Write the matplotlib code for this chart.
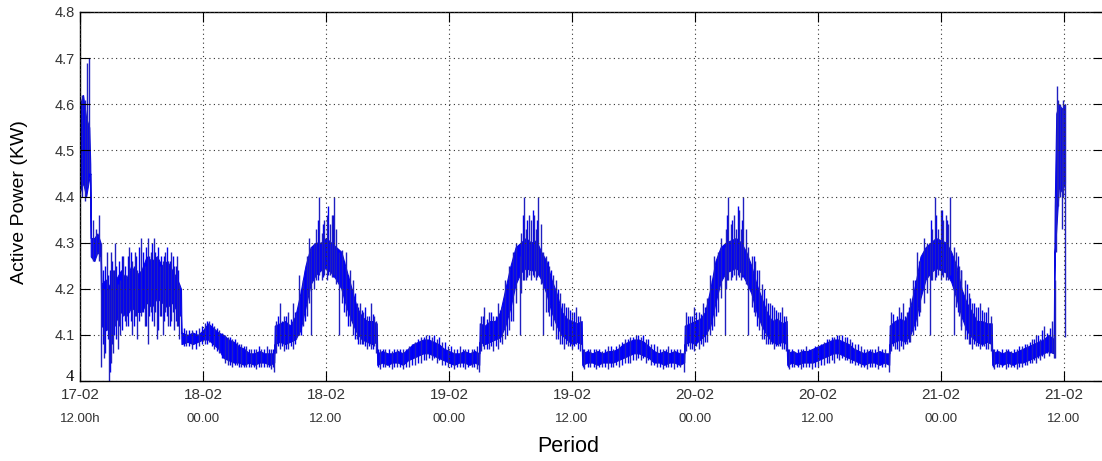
import numpy as np
import matplotlib
matplotlib.use("Agg")
import matplotlib.pyplot as plt
from matplotlib.transforms import blended_transform_factory

# ---------------- data (hours after 17-02 12:00) ----------------
tick_hours = [0, 12, 24, 36, 48, 60, 72, 84, 96]
tick_dates = ["17-02", "18-02", "18-02", "19-02", "19-02", "20-02", "20-02", "21-02", "21-02"]
tick_times = ["12.00h", "00.00", "12.00", "00.00", "12.00", "00.00", "12.00", "00.00", "12.00"]
y_ticks = [4.0, 4.1, 4.2, 4.3, 4.4, 4.5, 4.6, 4.7, 4.8]
y_labels = ["4", "4.1", "4.2", "4.3", "4.4", "4.5", "4.6", "4.7", "4.8"]

# dense core band of the power signal
band_hours = [
    0.0, 0.3, 0.6, 0.9, 1.0, 1.05, 1.4, 1.7, 2.0,
    2.1, 2.5, 3.0, 3.5, 4.0, 4.5, 5.0, 5.5, 6.0, 6.5, 7.0, 7.5, 8.0, 8.5, 9.0, 9.5, 9.85,
    9.9, 10.5, 11.0, 11.5, 12.0, 12.5, 13.0, 13.5, 14.0, 14.5, 15.0, 15.5, 16.0, 16.5, 17.0, 17.5, 18.0, 18.5, 18.95,
    19.0, 19.5, 20.0, 20.5, 21.0, 21.5, 22.0, 22.5, 23.0, 23.5, 24.0, 24.5, 25.0, 25.5, 26.0, 26.5, 27.0, 27.5, 28.0, 28.5, 28.95,
    29.0, 29.5, 30.0, 30.5, 31.0, 31.5, 32.0, 32.5, 33.0, 33.5, 34.0, 34.5, 35.0, 35.5, 36.0, 36.5, 37.0, 37.5, 38.0, 38.5, 38.95,
    39.0, 39.5, 40.0, 40.5, 41.0, 41.5, 42.0, 42.5, 43.0, 43.5, 44.0, 44.5, 45.0, 45.5, 46.0, 46.5, 47.0, 47.5, 48.0, 48.5, 48.95,
    49.0, 49.5, 50.0, 50.5, 51.0, 51.5, 52.0, 52.5, 53.0, 53.5, 54.0, 54.5, 55.0, 55.5, 56.0, 56.5, 57.0, 57.5, 58.0, 58.5, 58.95,
    59.0, 59.5, 60.0, 60.5, 61.0, 61.5, 62.0, 62.5, 63.0, 63.5, 64.0, 64.5, 65.0, 65.5, 66.0, 66.5, 67.0, 67.5, 68.0, 68.5, 68.95,
    69.0, 69.5, 70.0, 70.5, 71.0, 71.5, 72.0, 72.5, 73.0, 73.5, 74.0, 74.5, 75.0, 75.5, 76.0, 76.5, 77.0, 77.5, 78.0, 78.5, 78.95,
    79.0, 79.5, 80.0, 80.5, 81.0, 81.5, 82.0, 82.5, 83.0, 83.5, 84.0, 84.5, 85.0, 85.5, 86.0, 86.5, 87.0, 87.5, 88.0, 88.5, 88.95,
    89.0, 89.5, 90.0, 90.5, 91.0, 91.5, 92.0, 92.5, 93.0, 93.5, 94.0, 94.5, 95.0, 95.1, 95.25, 95.5, 95.8, 96.1,
]
band_low = [
    4.41, 4.43, 4.40, 4.44, 4.45, 4.27, 4.26, 4.28, 4.27,
    4.12, 4.11, 4.12, 4.13, 4.15, 4.14, 4.16, 4.15, 4.15, 4.17, 4.16, 4.18, 4.17, 4.16, 4.17, 4.15, 4.14,
    4.08, 4.085, 4.08, 4.085, 4.09, 4.09, 4.08, 4.07, 4.05, 4.045, 4.04, 4.04, 4.035, 4.04, 4.035, 4.04, 4.04, 4.035, 4.04,
    4.08, 4.085, 4.08, 4.085, 4.09, 4.11, 4.16, 4.21, 4.23, 4.24, 4.245, 4.235, 4.22, 4.20, 4.16, 4.13, 4.105, 4.09, 4.085, 4.08, 4.085,
    4.035, 4.04, 4.035, 4.04, 4.04, 4.035, 4.045, 4.05, 4.055, 4.06, 4.06, 4.055, 4.05, 4.045, 4.04, 4.035, 4.04, 4.04, 4.035, 4.04, 4.035,
    4.085, 4.08, 4.085, 4.09, 4.095, 4.12, 4.16, 4.21, 4.235, 4.245, 4.24, 4.24, 4.22, 4.19, 4.15, 4.12, 4.10, 4.09, 4.08, 4.085, 4.08,
    4.035, 4.04, 4.04, 4.035, 4.04, 4.04, 4.04, 4.045, 4.05, 4.055, 4.06, 4.06, 4.055, 4.05, 4.04, 4.04, 4.035, 4.04, 4.04, 4.035, 4.04,
    4.08, 4.085, 4.08, 4.09, 4.10, 4.12, 4.17, 4.215, 4.235, 4.24, 4.245, 4.235, 4.215, 4.19, 4.15, 4.12, 4.10, 4.085, 4.08, 4.085, 4.08,
    4.035, 4.04, 4.035, 4.04, 4.04, 4.04, 4.045, 4.05, 4.055, 4.06, 4.06, 4.055, 4.05, 4.045, 4.04, 4.035, 4.04, 4.04, 4.035, 4.04, 4.035,
    4.08, 4.085, 4.09, 4.085, 4.10, 4.13, 4.18, 4.22, 4.235, 4.245, 4.24, 4.235, 4.215, 4.18, 4.14, 4.11, 4.095, 4.085, 4.08, 4.085, 4.08,
    4.035, 4.04, 4.035, 4.04, 4.035, 4.04, 4.04, 4.045, 4.05, 4.055, 4.06, 4.065, 4.06, 4.28, 4.33, 4.42, 4.41, 4.43,
]
band_high = [
    4.60, 4.62, 4.57, 4.55, 4.47, 4.31, 4.31, 4.32, 4.30,
    4.21, 4.22, 4.20, 4.22, 4.24, 4.22, 4.25, 4.23, 4.24, 4.27, 4.26, 4.27, 4.25, 4.26, 4.24, 4.22, 4.20,
    4.105, 4.10, 4.105, 4.10, 4.11, 4.125, 4.115, 4.105, 4.10, 4.09, 4.085, 4.075, 4.07, 4.06, 4.06, 4.065, 4.06, 4.06, 4.06,
    4.12, 4.125, 4.13, 4.12, 4.14, 4.19, 4.25, 4.29, 4.30, 4.30, 4.31, 4.30, 4.29, 4.28, 4.24, 4.20, 4.16, 4.14, 4.13, 4.13, 4.125,
    4.06, 4.065, 4.06, 4.06, 4.065, 4.06, 4.07, 4.08, 4.085, 4.09, 4.09, 4.085, 4.08, 4.07, 4.065, 4.06, 4.06, 4.065, 4.06, 4.065, 4.06,
    4.125, 4.12, 4.13, 4.13, 4.15, 4.20, 4.25, 4.29, 4.30, 4.31, 4.30, 4.305, 4.28, 4.26, 4.22, 4.19, 4.15, 4.135, 4.13, 4.125, 4.13,
    4.06, 4.065, 4.06, 4.065, 4.06, 4.065, 4.065, 4.07, 4.08, 4.085, 4.09, 4.09, 4.085, 4.075, 4.065, 4.06, 4.065, 4.06, 4.065, 4.06, 4.06,
    4.12, 4.125, 4.13, 4.135, 4.15, 4.20, 4.26, 4.29, 4.30, 4.305, 4.31, 4.30, 4.28, 4.25, 4.21, 4.18, 4.15, 4.13, 4.135, 4.125, 4.13,
    4.06, 4.065, 4.06, 4.065, 4.065, 4.07, 4.075, 4.08, 4.085, 4.09, 4.09, 4.085, 4.08, 4.07, 4.065, 4.06, 4.065, 4.06, 4.065, 4.06, 4.06,
    4.12, 4.13, 4.135, 4.13, 4.16, 4.21, 4.27, 4.29, 4.30, 4.31, 4.305, 4.30, 4.28, 4.25, 4.20, 4.17, 4.15, 4.13, 4.13, 4.125, 4.125,
    4.06, 4.065, 4.06, 4.065, 4.06, 4.065, 4.07, 4.075, 4.08, 4.085, 4.09, 4.10, 4.09, 4.38, 4.58, 4.60, 4.59, 4.60,
]

# large fast excursions (spikes) of the signal
spike_hours = [
    0.15, 0.45, 0.7, 0.85, 1.3, 1.6, 1.85, 2.02,
    2.3, 2.6, 2.8, 3.0, 3.2, 3.4, 3.7, 3.9, 4.2, 4.5, 4.8, 5.1, 5.4, 5.6, 6.0, 6.3, 6.6, 6.9, 7.2, 7.5, 7.8, 8.1, 8.3, 8.6, 8.9, 9.2, 9.5, 9.7,
    10.3, 10.9, 11.6, 12.2, 12.6, 13.1, 13.6, 14.1, 14.4, 14.8, 15.3, 15.7, 16.2, 16.7, 17.2, 17.7, 18.2, 18.6, 18.9,
    19.1, 19.5, 19.9, 20.3, 20.8, 21.1, 21.4, 21.8, 22.1, 22.3, 22.5, 22.8, 23.05, 23.3, 23.6, 23.85, 24.1, 24.35, 24.55, 24.8, 25.0, 25.25, 25.6, 26.0, 26.3, 26.6, 27.0, 27.3, 27.6, 28.0, 28.4, 28.7, 28.9,
    29.3, 29.8, 30.4, 30.9, 31.5, 32.1, 32.7, 33.3, 33.8, 34.3, 34.8, 35.3, 35.9, 36.5, 37.1, 37.6, 38.2, 38.7, 38.95,
    39.1, 39.4, 39.9, 40.3, 40.8, 41.2, 41.5, 41.9, 42.2, 42.5, 42.9, 43.05, 43.3, 43.5, 43.8, 44.0, 44.3, 44.5, 44.7, 44.95, 45.2, 45.5, 45.8, 46.1, 46.4, 46.8, 47.2, 47.6, 48.0, 48.4, 48.8,
    49.2, 49.8, 50.3, 50.9, 51.5, 52.0, 52.6, 53.2, 53.7, 54.2, 54.7, 55.2, 55.7, 56.3, 56.9, 57.4, 58.0, 58.5, 58.95,
    59.1, 59.5, 59.9, 60.4, 60.8, 61.2, 61.5, 61.9, 62.2, 62.5, 62.9, 63.05, 63.25, 63.5, 63.8, 64.0, 64.3, 64.5, 64.7, 64.95, 65.2, 65.6, 65.9, 66.2, 66.5, 66.9, 67.3, 67.7, 68.1, 68.5, 68.9,
    69.2, 69.7, 70.3, 70.8, 71.4, 72.0, 72.6, 73.1, 73.6, 74.1, 74.6, 75.1, 75.6, 76.2, 76.8, 77.3, 77.9, 78.5, 78.95,
    79.1, 79.5, 79.9, 80.3, 80.7, 81.0, 81.3, 81.7, 82.0, 82.3, 82.6, 82.95, 83.15, 83.4, 83.7, 84.0, 84.2, 84.45, 84.65, 84.9, 85.3, 85.5, 85.8, 86.0, 86.3, 86.7, 87.0, 87.4, 87.8, 88.2, 88.6, 88.9,
    89.2, 89.7, 90.3, 90.8, 91.4, 91.9, 92.4, 92.9, 93.3, 93.7, 94.1, 94.5, 94.8, 95.0, 95.1, 95.2, 95.3, 95.45, 95.65, 95.8, 95.95, 96.12,
]
spike_low = [
    4.40, 4.39, 4.42, 4.45, 4.26, 4.27, 4.26, 4.03,
    4.05, 4.11, 4.00, 4.04, 4.06, 4.12, 4.07, 4.10, 4.14, 4.12, 4.15, 4.10, 4.14, 4.09, 4.14, 4.12, 4.08, 4.15, 4.12, 4.09, 4.14, 4.10, 4.15, 4.12, 4.13, 4.11, 4.12, 4.09,
    4.075, 4.07, 4.075, 4.08, 4.085, 4.07, 4.06, 4.04, 4.035, 4.03, 4.035, 4.03, 4.03, 4.03, 4.025, 4.03, 4.03, 4.025, 4.02,
    4.06, 4.07, 4.065, 4.07, 4.07, 4.09, 4.10, 4.12, 4.14, 4.17, 4.10, 4.20, 4.22, 4.23, 4.22, 4.23, 4.22, 4.23, 4.225, 4.23, 4.21, 4.10, 4.17, 4.14, 4.12, 4.10, 4.09, 4.08, 4.08, 4.07, 4.07, 4.075, 4.06,
    4.025, 4.03, 4.025, 4.03, 4.025, 4.03, 4.035, 4.04, 4.045, 4.045, 4.04, 4.035, 4.03, 4.025, 4.03, 4.025, 4.03, 4.025, 4.02,
    4.065, 4.07, 4.07, 4.065, 4.07, 4.08, 4.09, 4.11, 4.13, 4.17, 4.10, 4.19, 4.22, 4.22, 4.23, 4.22, 4.225, 4.22, 4.23, 4.21, 4.10, 4.15, 4.14, 4.11, 4.09, 4.08, 4.07, 4.075, 4.07, 4.08, 4.065,
    4.025, 4.03, 4.025, 4.03, 4.025, 4.03, 4.03, 4.04, 4.04, 4.045, 4.045, 4.04, 4.035, 4.03, 4.025, 4.03, 4.025, 4.03, 4.02,
    4.065, 4.07, 4.065, 4.07, 4.075, 4.085, 4.10, 4.12, 4.15, 4.18, 4.10, 4.20, 4.22, 4.22, 4.23, 4.22, 4.225, 4.22, 4.23, 4.21, 4.10, 4.16, 4.14, 4.11, 4.09, 4.08, 4.08, 4.07, 4.075, 4.07, 4.065,
    4.025, 4.03, 4.025, 4.03, 4.025, 4.03, 4.035, 4.04, 4.04, 4.045, 4.045, 4.04, 4.035, 4.03, 4.025, 4.03, 4.025, 4.03, 4.02,
    4.065, 4.07, 4.065, 4.07, 4.08, 4.085, 4.10, 4.12, 4.15, 4.17, 4.19, 4.10, 4.22, 4.22, 4.23, 4.22, 4.225, 4.22, 4.22, 4.23, 4.10, 4.16, 4.14, 4.11, 4.09, 4.08, 4.07, 4.075, 4.07, 4.075, 4.07, 4.065,
    4.025, 4.03, 4.025, 4.03, 4.025, 4.03, 4.035, 4.04, 4.04, 4.045, 4.05, 4.055, 4.06, 4.05, 4.05, 4.28, 4.40, 4.38, 4.40, 4.33, 4.40, 4.095,
]
spike_high = [
    4.62, 4.61, 4.69, 4.70, 4.35, 4.33, 4.36, 4.30,
    4.20, 4.28, 4.20, 4.28, 4.24, 4.30, 4.21, 4.22, 4.27, 4.23, 4.29, 4.26, 4.28, 4.24, 4.31, 4.25, 4.31, 4.28, 4.31, 4.27, 4.25, 4.26, 4.28, 4.26, 4.28, 4.25, 4.27, 4.21,
    4.11, 4.11, 4.115, 4.125, 4.13, 4.12, 4.11, 4.10, 4.095, 4.09, 4.085, 4.08, 4.075, 4.07, 4.07, 4.07, 4.075, 4.07, 4.06,
    4.13, 4.17, 4.14, 4.15, 4.17, 4.15, 4.23, 4.22, 4.27, 4.31, 4.29, 4.30, 4.33, 4.40, 4.32, 4.35, 4.36, 4.34, 4.36, 4.40, 4.33, 4.28, 4.285, 4.28, 4.24, 4.22, 4.17, 4.17, 4.15, 4.14, 4.17, 4.14, 4.13,
    4.07, 4.07, 4.065, 4.07, 4.07, 4.075, 4.085, 4.095, 4.10, 4.095, 4.09, 4.085, 4.075, 4.07, 4.075, 4.07, 4.07, 4.075, 4.06,
    4.14, 4.16, 4.15, 4.14, 4.17, 4.16, 4.22, 4.25, 4.28, 4.30, 4.27, 4.32, 4.40, 4.33, 4.36, 4.35, 4.36, 4.33, 4.40, 4.34, 4.28, 4.27, 4.25, 4.23, 4.22, 4.19, 4.17, 4.16, 4.15, 4.16, 4.14,
    4.07, 4.07, 4.07, 4.065, 4.075, 4.07, 4.08, 4.09, 4.095, 4.10, 4.095, 4.09, 4.08, 4.075, 4.07, 4.075, 4.07, 4.07, 4.065,
    4.15, 4.14, 4.16, 4.15, 4.17, 4.18, 4.23, 4.27, 4.28, 4.31, 4.29, 4.33, 4.40, 4.34, 4.36, 4.33, 4.37, 4.33, 4.40, 4.33, 4.29, 4.27, 4.26, 4.24, 4.21, 4.18, 4.17, 4.16, 4.15, 4.16, 4.14,
    4.07, 4.065, 4.07, 4.075, 4.07, 4.075, 4.085, 4.09, 4.095, 4.10, 4.095, 4.09, 4.08, 4.075, 4.07, 4.07, 4.075, 4.07, 4.065,
    4.15, 4.13, 4.16, 4.17, 4.15, 4.18, 4.22, 4.28, 4.26, 4.31, 4.30, 4.30, 4.33, 4.40, 4.33, 4.37, 4.35, 4.36, 4.34, 4.40, 4.29, 4.28, 4.25, 4.24, 4.22, 4.19, 4.17, 4.16, 4.17, 4.15, 4.16, 4.14,
    4.07, 4.065, 4.07, 4.065, 4.07, 4.075, 4.08, 4.09, 4.10, 4.09, 4.12, 4.10, 4.13, 4.10, 4.22, 4.40, 4.64, 4.61, 4.60, 4.59, 4.61, 4.60,
]

# smaller ripples of the signal around the band
ripple_hours = [
    2.2, 2.45, 2.7, 2.9, 3.1, 3.3, 3.55, 3.8, 4.05, 4.35, 4.65, 4.95, 5.25, 5.5, 5.8, 6.15, 6.45, 6.75, 7.05, 7.35, 7.65, 7.95, 8.2, 8.45, 8.75, 9.05, 9.35, 9.6,
    10.1, 10.6, 11.3, 11.9, 12.4, 12.9, 13.4, 13.9, 14.6, 15.1, 15.5, 16.0, 16.5, 17.0, 17.5, 18.0, 18.4, 18.8,
    19.3, 19.7, 20.1, 20.6, 21.0, 21.6, 22.0, 23.2, 23.75, 24.2, 24.65, 25.8, 26.15, 26.8, 27.15, 27.5, 27.8, 28.2, 28.55,
    29.05, 29.55, 30.1, 30.6, 31.2, 31.8, 32.4, 33.0, 33.55, 34.05, 34.55, 35.05, 35.6, 36.2, 36.8, 37.35, 37.9, 38.45,
    39.3, 39.7, 40.1, 40.6, 41.0, 41.7, 42.05, 43.2, 43.65, 44.15, 44.6, 45.65, 46.0, 46.6, 47.0, 47.4, 47.8, 48.2, 48.6,
    49.05, 49.55, 50.1, 50.6, 51.2, 51.8, 52.3, 52.9, 53.45, 53.95, 54.45, 54.95, 55.45, 56.0, 56.6, 57.15, 57.7, 58.25,
    59.3, 59.7, 60.1, 60.6, 61.0, 61.7, 62.05, 63.15, 63.65, 64.15, 64.6, 65.75, 66.05, 66.7, 67.1, 67.5, 67.9, 68.3, 68.7,
    69.05, 69.5, 70.05, 70.55, 71.1, 71.7, 72.3, 72.85, 73.35, 73.85, 74.35, 74.85, 75.35, 75.9, 76.5, 77.05, 77.6, 78.2,
    79.3, 79.7, 80.1, 80.5, 80.85, 81.5, 81.85, 83.0, 83.55, 84.1, 84.55, 85.65, 85.95, 86.5, 86.85, 87.2, 87.6, 88.0, 88.4,
    89.05, 89.45, 90.0, 90.55, 91.1, 91.65, 92.15, 92.65, 93.1, 93.5, 93.9, 94.3, 94.65,
]
ripple_low = [
    4.08, 4.06, 4.09, 4.02, 4.08, 4.10, 4.09, 4.12, 4.11, 4.13, 4.12, 4.13, 4.12, 4.14, 4.13, 4.15, 4.12, 4.14, 4.13, 4.15, 4.11, 4.14, 4.13, 4.14, 4.12, 4.15, 4.13, 4.12,
    4.075, 4.075, 4.07, 4.08, 4.08, 4.075, 4.065, 4.05, 4.035, 4.035, 4.03, 4.03, 4.03, 4.03, 4.03, 4.03, 4.03, 4.03,
    4.075, 4.075, 4.07, 4.075, 4.08, 4.10, 4.13, 4.22, 4.225, 4.23, 4.225, 4.15, 4.12, 4.09, 4.08, 4.08, 4.075, 4.075, 4.07,
    4.03, 4.03, 4.03, 4.03, 4.03, 4.03, 4.035, 4.04, 4.045, 4.05, 4.05, 4.045, 4.035, 4.03, 4.03, 4.03, 4.03, 4.03,
    4.075, 4.07, 4.075, 4.075, 4.085, 4.10, 4.13, 4.22, 4.225, 4.23, 4.225, 4.15, 4.12, 4.09, 4.08, 4.08, 4.075, 4.075, 4.07,
    4.03, 4.03, 4.03, 4.03, 4.03, 4.03, 4.035, 4.035, 4.04, 4.045, 4.05, 4.05, 4.045, 4.035, 4.03, 4.03, 4.03, 4.03,
    4.075, 4.07, 4.075, 4.08, 4.085, 4.11, 4.14, 4.22, 4.225, 4.23, 4.225, 4.15, 4.12, 4.09, 4.08, 4.08, 4.075, 4.075, 4.07,
    4.03, 4.03, 4.03, 4.03, 4.03, 4.03, 4.035, 4.04, 4.045, 4.05, 4.05, 4.045, 4.04, 4.035, 4.03, 4.03, 4.03, 4.03,
    4.075, 4.07, 4.075, 4.08, 4.085, 4.11, 4.14, 4.22, 4.225, 4.23, 4.225, 4.15, 4.12, 4.09, 4.08, 4.08, 4.075, 4.075, 4.07,
    4.03, 4.03, 4.03, 4.03, 4.03, 4.03, 4.035, 4.04, 4.045, 4.05, 4.055, 4.06, 4.06,
]
ripple_high = [
    4.24, 4.25, 4.23, 4.24, 4.26, 4.24, 4.25, 4.26, 4.27, 4.25, 4.27, 4.28, 4.25, 4.27, 4.29, 4.28, 4.29, 4.27, 4.30, 4.28, 4.29, 4.27, 4.27, 4.29, 4.26, 4.27, 4.25, 4.24,
    4.115, 4.11, 4.11, 4.12, 4.13, 4.125, 4.115, 4.105, 4.095, 4.09, 4.08, 4.075, 4.07, 4.07, 4.075, 4.07, 4.07, 4.07,
    4.14, 4.13, 4.14, 4.135, 4.15, 4.20, 4.24, 4.35, 4.34, 4.38, 4.36, 4.26, 4.23, 4.19, 4.16, 4.155, 4.16, 4.14, 4.145,
    4.07, 4.07, 4.07, 4.07, 4.07, 4.07, 4.08, 4.09, 4.095, 4.10, 4.10, 4.095, 4.085, 4.075, 4.07, 4.07, 4.07, 4.07,
    4.14, 4.135, 4.15, 4.14, 4.155, 4.21, 4.25, 4.36, 4.35, 4.37, 4.35, 4.26, 4.24, 4.20, 4.17, 4.16, 4.155, 4.15, 4.14,
    4.07, 4.07, 4.07, 4.07, 4.07, 4.075, 4.075, 4.085, 4.09, 4.095, 4.10, 4.10, 4.09, 4.08, 4.07, 4.07, 4.07, 4.07,
    4.14, 4.14, 4.15, 4.145, 4.16, 4.22, 4.26, 4.36, 4.35, 4.38, 4.35, 4.27, 4.24, 4.20, 4.17, 4.165, 4.155, 4.15, 4.14,
    4.07, 4.07, 4.07, 4.07, 4.07, 4.075, 4.08, 4.09, 4.095, 4.10, 4.10, 4.095, 4.085, 4.08, 4.07, 4.07, 4.07, 4.07,
    4.145, 4.14, 4.15, 4.14, 4.16, 4.22, 4.26, 4.35, 4.36, 4.37, 4.35, 4.27, 4.24, 4.21, 4.18, 4.17, 4.16, 4.155, 4.15,
    4.07, 4.07, 4.07, 4.07, 4.07, 4.075, 4.08, 4.085, 4.09, 4.10, 4.11, 4.105, 4.115,
]

# ---------------- figure ----------------
W, H = 1102, 461
fig = plt.figure(figsize=(W / 100, H / 100), dpi=100)
fig.patch.set_facecolor("white")
ax = fig.add_axes([80 / W, 80 / H, 1022.5 / W, 369 / H])

ax.fill_between(band_hours, band_low, band_high, facecolor="#0000ff",
                edgecolor="#0a0ae0", linewidth=0.8, zorder=2)
ax.vlines(ripple_hours, ripple_low, ripple_high, color="#0000f0", linewidth=1.0, zorder=2)
ax.vlines(spike_hours, spike_low, spike_high, color="#2020c0", linewidth=1.0, zorder=2)

ax.set_xlim(0, 99.76)
ax.set_ylim(4.0, 4.8)

ax.set_xticks(tick_hours)
ax.set_xticklabels(tick_dates, fontsize=11, family="Liberation Sans", color="#333333")
ax.set_yticks(y_ticks)
ax.set_yticklabels(y_labels, fontsize=10.5, family="Liberation Sans", color="#333333")
lab0 = ax.get_yticklabels()[0]
lab0.set_fontfamily("Liberation Serif")
lab0.set_fontsize(12)
lab0.set_color("black")
lab0.set_verticalalignment("baseline")

ax.tick_params(axis="both", direction="in", length=7, width=0.8,
               top=True, right=True, color="black")
ax.tick_params(axis="x", pad=5)
ax.tick_params(axis="y", pad=4)

ax.grid(True, linestyle=(0, (1, 3)), color="#333333", linewidth=0.8)
ax.set_axisbelow(False)
for s in ax.spines.values():
    s.set_linewidth(1.0)
    s.set_color("black")

trans = blended_transform_factory(ax.transData, ax.transAxes)
for x, t in zip(tick_hours, tick_times):
    ax.text(x, -0.103, t, transform=trans, ha="center", va="center",
            fontsize=9.5, family="Liberation Sans", color="#333333")

fig.text(568 / W, 1 - 446 / H, "Period", ha="center", va="center",
         fontsize=15.5, family="Liberation Sans", color="black")
fig.text(20 / W, 1 - 202 / H, "Active Power (KW)", ha="center", va="center",
         rotation=90, fontsize=14, family="Liberation Sans", color="black")

fig.savefig("out.png", dpi=100, facecolor="white")
